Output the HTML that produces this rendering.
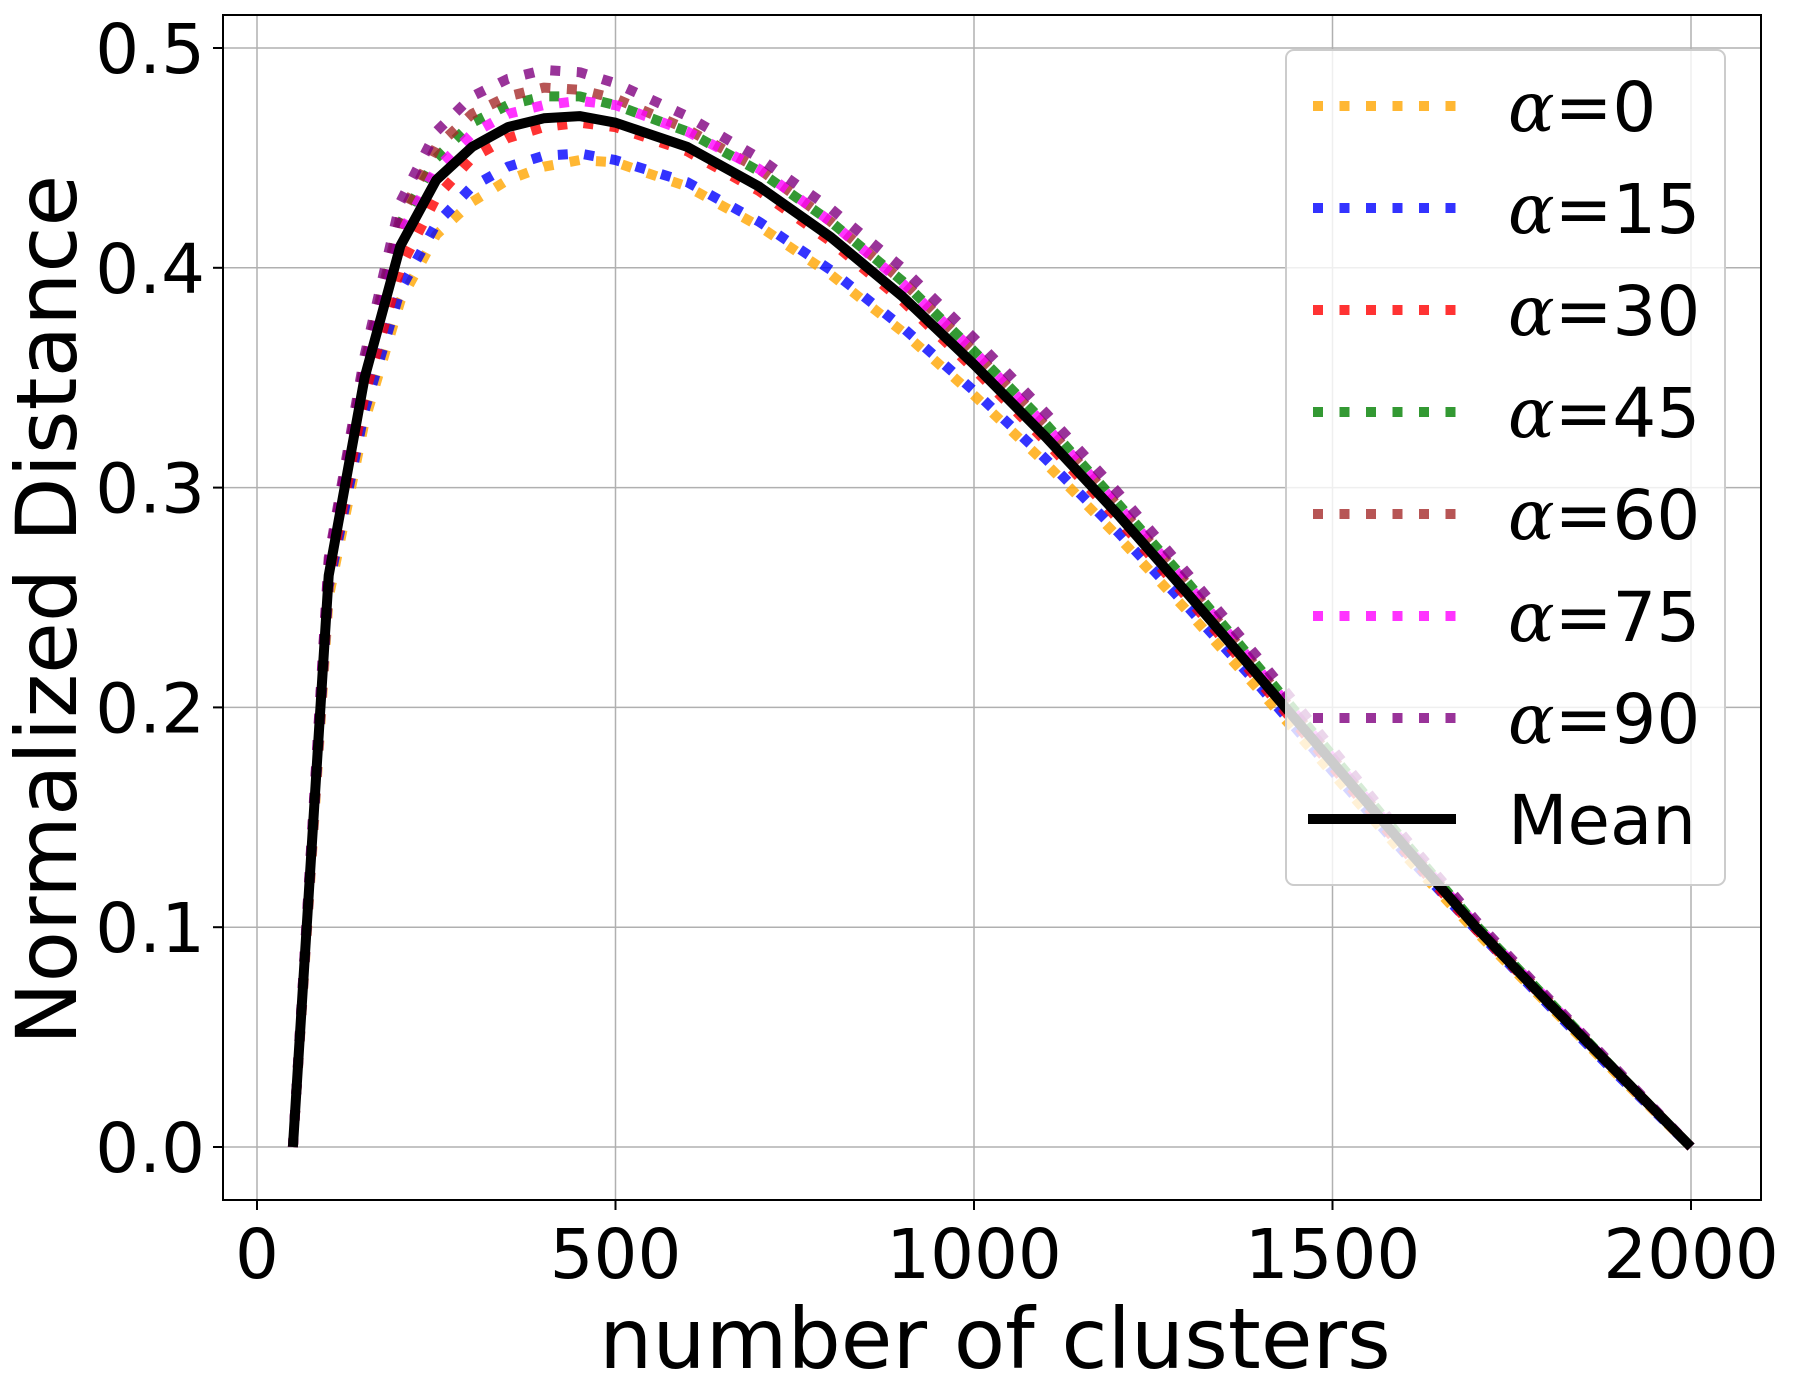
<!DOCTYPE html>
<html><head><meta charset="utf-8"><style>
html,body{margin:0;padding:0;background:#fff;}
svg{display:block;font-family:"DejaVu Sans","Liberation Sans",sans-serif;}
</style></head><body>
<svg id="chart" width="1800" height="1400" viewBox="0 0 1800 1400" xmlns="http://www.w3.org/2000/svg">
<rect x="0" y="0" width="1800" height="1400" fill="#fff"/>
<g id="grid"></g>
<g id="series"></g>
<rect x="223" y="15" width="1538" height="1185" fill="none" stroke="#000" stroke-width="2"/>
<g id="ticks"></g>
<text x="995" y="1368" font-size="84" text-anchor="middle">number of clusters</text>
<text transform="translate(76,610) rotate(-90)" font-size="84" text-anchor="middle">Normalized Distance</text>
<g id="legend"></g>
</svg>
<script>
const xs = [50,100,150,200,250,300,350,400,450,500,600,700,800,900,1000,1100,1200,1300,1400,1500,1600,1700,1800,1900,2000];
const a0  = [0,0.250,0.330,0.385,0.415,0.430,0.440,0.446,0.449,0.448,0.437,0.419,0.397,0.371,0.342,0.311,0.278,0.243,0.207,0.170,0.133,0.098,0.065,0.032,0];
const a15 = [0,0.255,0.335,0.390,0.420,0.437,0.446,0.451,0.452,0.449,0.439,0.421,0.399,0.373,0.344,0.313,0.280,0.245,0.209,0.171,0.134,0.099,0.065,0.032,0];
const a30 = [0,0.258,0.342,0.400,0.432,0.450,0.459,0.464,0.466,0.464,0.453,0.435,0.412,0.385,0.354,0.321,0.286,0.249,0.211,0.173,0.135,0.099,0.066,0.033,0];
const a45 = [0,0.265,0.355,0.420,0.450,0.466,0.474,0.478,0.478,0.474,0.462,0.444,0.421,0.394,0.362,0.329,0.293,0.256,0.217,0.178,0.139,0.101,0.067,0.033,0];
const a60 = [0,0.266,0.357,0.423,0.455,0.470,0.478,0.482,0.481,0.477,0.463,0.445,0.421,0.394,0.362,0.328,0.292,0.255,0.216,0.177,0.138,0.101,0.067,0.033,0];
const a75 = [0,0.264,0.352,0.415,0.445,0.461,0.470,0.474,0.476,0.474,0.462,0.445,0.421,0.393,0.362,0.328,0.292,0.255,0.216,0.177,0.138,0.101,0.067,0.033,0];
const a90 = [0,0.268,0.360,0.430,0.462,0.478,0.486,0.490,0.489,0.484,0.469,0.450,0.427,0.400,0.368,0.334,0.298,0.260,0.221,0.181,0.141,0.103,0.068,0.034,0];
const mean= [0,0.260,0.350,0.410,0.440,0.455,0.464,0.468,0.469,0.466,0.455,0.437,0.414,0.387,0.356,0.323,0.288,0.251,0.213,0.175,0.137,0.100,0.066,0.033,0];
const xTicks = [0,500,1000,1500,2000];
const xTickLabels = ["0","500","1000","1500","2000"];
const yTicks = [0,0.1,0.2,0.3,0.4,0.5];
const yTickLabels = ["0.0","0.1","0.2","0.3","0.4","0.5"];
const seriesNames = ["α=0","α=15","α=30","α=45","α=60","α=75","α=90"];

const NS="http://www.w3.org/2000/svg";
function X(v){return 257 + v*(1691-257)/2000;}
function Y(v){return 1147 - v*(1147-48)/0.5;}
function mk(tag,attrs,parent){const e=document.createElementNS(NS,tag);for(const k in attrs)e.setAttribute(k,attrs[k]);parent.appendChild(e);return e;}
const grid=document.getElementById('grid'),ticks=document.getElementById('ticks'),ser=document.getElementById('series'),leg=document.getElementById('legend');
xTicks.forEach((t,i)=>{
  const l=mk('line',{x1:X(t),x2:X(t),y1:15,y2:1200,stroke:'#b0b0b0','stroke-width':1.5},grid);
  
  
  const tk=mk('line',{x1:X(t),x2:X(t),y1:1200,y2:1210,stroke:'#000','stroke-width':2},ticks);
  
  
  const tx=mk('text',{x:X(t),y:1278,'font-size':69,'text-anchor':'middle'},ticks);
  tx.textContent=xTickLabels[i];
  
  
});
yTicks.forEach((t,i)=>{
  const l=mk('line',{x1:223,x2:1761,y1:Y(t),y2:Y(t),stroke:'#b0b0b0','stroke-width':1.5},grid);
  
  
  const tk=mk('line',{x1:213,x2:223,y1:Y(t),y2:Y(t),stroke:'#000','stroke-width':2},ticks);
  
  
  const tx=mk('text',{x:205,y:Y(t)+25,'font-size':69,'text-anchor':'end'},ticks);
  tx.textContent=yTickLabels[i];
  
  
});
const colors=['#ffa500','#0000ff','#ff0000','#008000','#a52a2a','#ff00ff','#800080'];
const data=[a0,a15,a30,a45,a60,a75,a90];
function pts(arr){return arr.map((v,i)=>X(xs[i]).toFixed(1)+','+Y(v).toFixed(1)).join(' ');}
data.forEach((arr,k)=>{
  const p=mk('polyline',{points:pts(arr),fill:'none',stroke:colors[k],'stroke-width':10,'stroke-dasharray':'10 16.5','stroke-opacity':0.8,'stroke-linejoin':'round'},ser);
  
  
});
const m=mk('polyline',{points:pts(mean),fill:'none',stroke:'#000','stroke-width':10,'stroke-linejoin':'round'},ser);


const box=mk('rect',{x:1286,y:50,width:439,height:835,rx:8,fill:'#fff','fill-opacity':0.8,stroke:'#cccccc','stroke-width':2},leg);


seriesNames.forEach((nm,k)=>{
  const y=106+k*102;
  const l=mk('line',{x1:1313,x2:1460,y1:y,y2:y,stroke:colors[k],'stroke-width':10,'stroke-dasharray':'10 16.5','stroke-opacity':0.8},leg);
  
  
  const t=mk('text',{x:1508,y:y+25,'font-size':69},leg);
  t.innerHTML='<tspan font-style="italic" font-family="DejaVu Serif, Liberation Serif, serif">α</tspan>='+nm.slice(2);
  
  
});
const ml=mk('line',{x1:1308,x2:1456,y1:819,y2:819,stroke:'#000','stroke-width':10},leg);


const mt=mk('text',{x:1508,y:844,'font-size':69},leg);
mt.textContent='Mean';


</script>
</body></html>
